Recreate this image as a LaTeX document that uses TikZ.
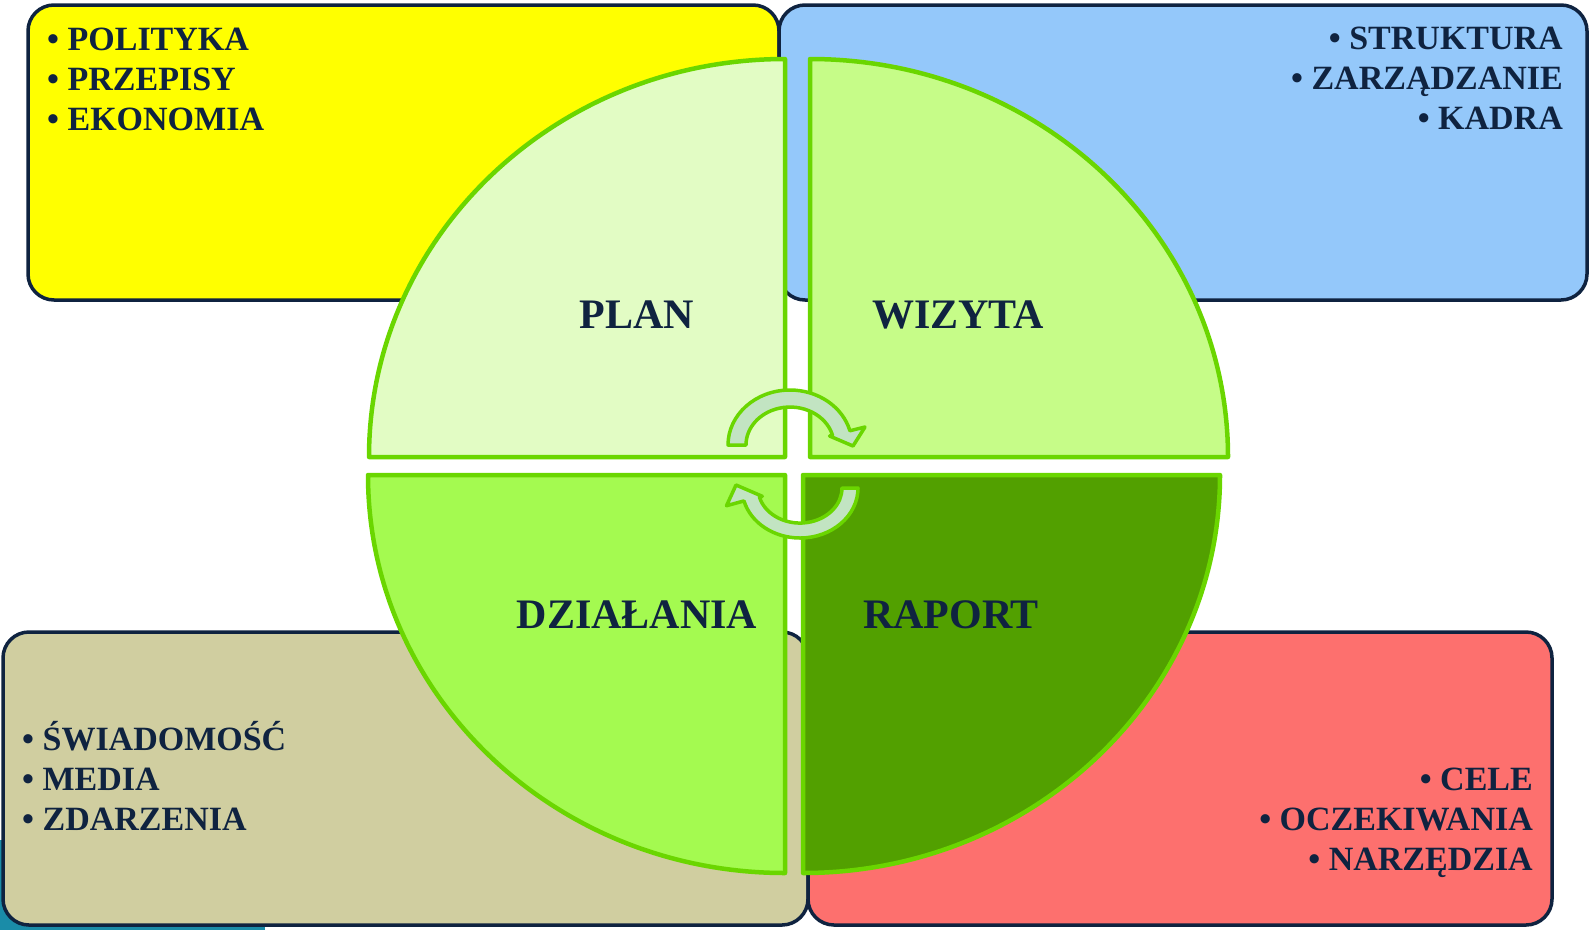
\documentclass[tikz,border=0pt]{standalone}
\usepackage{fontspec}
\setmainfont{Liberation Serif}
\definecolor{navy}{RGB}{15,35,64}
\definecolor{byellow}{RGB}{255,255,0}
\definecolor{bblue}{RGB}{148,200,250}
\definecolor{btan}{RGB}{208,206,160}
\definecolor{bred}{RGB}{253,112,110}
\definecolor{qgreen}{RGB}{106,214,0}
\definecolor{qplan}{RGB}{226,252,196}
\definecolor{qwiz}{RGB}{198,252,136}
\definecolor{qdzi}{RGB}{164,250,80}
\definecolor{qrap}{RGB}{82,160,0}
\definecolor{arrfill}{RGB}{194,228,194}
\definecolor{tealbg}{RGB}{26,140,168}
\begin{document}
\begin{tikzpicture}[x=1pt,y=-1pt,
  box/.style={draw=navy, line width=3.5pt, rounded corners=26pt},
  quad/.style={draw=qgreen, line width=4.5pt, line join=round},
  arr/.style={draw=qgreen, fill=arrfill, line width=3.5pt, line join=round},
  item/.style={inner sep=0pt, text=navy, font=\fontsize{34}{40}\selectfont\bfseries},
  lab/.style={inner sep=0pt, text=navy, font=\fontsize{42}{48}\selectfont\bfseries}]
\useasboundingbox (0,0) rectangle (1594,930);
% background fragment
\fill[tealbg] (0,840) rectangle (265,930);
% boxes
\draw[box, fill=byellow] (28,5) rectangle (779,300);
\draw[box, fill=bblue] (779,5) rectangle (1587,300);
\draw[box, fill=btan] (3,632) rectangle (808,925);
\draw[box, fill=bred] (808,632) rectangle (1552,925);
% quadrants
\draw[quad, fill=qplan] (785,457) -- (785,59) arc[start angle=-90, end angle=-180, x radius=416, y radius=398] -- cycle;
\draw[quad, fill=qwiz] (810,457) -- (810,59) arc[start angle=-90, end angle=0, x radius=418, y radius=398] -- cycle;
\draw[quad, fill=qdzi] (785,475) -- (368,475) arc[start angle=180, end angle=90, x radius=417, y radius=398] -- cycle;
\draw[quad, fill=qrap] (803,475) -- (1220,475) arc[start angle=0, end angle=90, x radius=417, y radius=398] -- cycle;
% circular arrows
\draw[arr] (728,445) arc[start angle=180, end angle=345, x radius=62, y radius=55]
  -- (865,427) -- (853,446) -- (829.6,436) -- (832.5,435.2)
  arc[start angle=345, end angle=180, x radius=44, y radius=38] -- cycle;
\draw[arr] (858,488) arc[start angle=0, end angle=165, x radius=58, y radius=50]
  -- (726.5,505.7) -- (736,485) -- (762.3,496.3) -- (759.4,497.1)
  arc[start angle=165, end angle=0, x radius=42, y radius=35] -- cycle;
% quadrant labels
\node[lab] (plan) at (637,315) {PLAN};
\node[lab] (wizyta) at (958,315) {WIZYTA};
\node[lab] (dzialania) at (637,615) {DZIAŁANIA};
\node[lab] (raport) at (951,615) {RAPORT};
% yellow list
\node[item, anchor=base west] (y1) at (47,50) {• POLITYKA};
\node[item, anchor=base west] (y2) at (47,90) {• PRZEPISY};
\node[item, anchor=base west] (y3) at (47,130) {• EKONOMIA};
% blue list
\node[item, anchor=base east] (b1) at (1563,49) {• STRUKTURA};
\node[item, anchor=base east] (b2) at (1563,89) {• ZARZĄDZANIE};
\node[item, anchor=base east] (b3) at (1563,129) {• KADRA};
% tan list
\node[item, anchor=base west] (t1) at (22,750) {• ŚWIADOMOŚĆ};
\node[item, anchor=base west] (t2) at (22,790) {• MEDIA};
\node[item, anchor=base west] (t3) at (22,830) {• ZDARZENIA};
% red list
\node[item, anchor=base east] (r1) at (1533,790) {• CELE};
\node[item, anchor=base east] (r2) at (1533,830) {• OCZEKIWANIA};
\node[item, anchor=base east] (r3) at (1533,870) {• NARZĘDZIA};
\end{tikzpicture}
\end{document}
